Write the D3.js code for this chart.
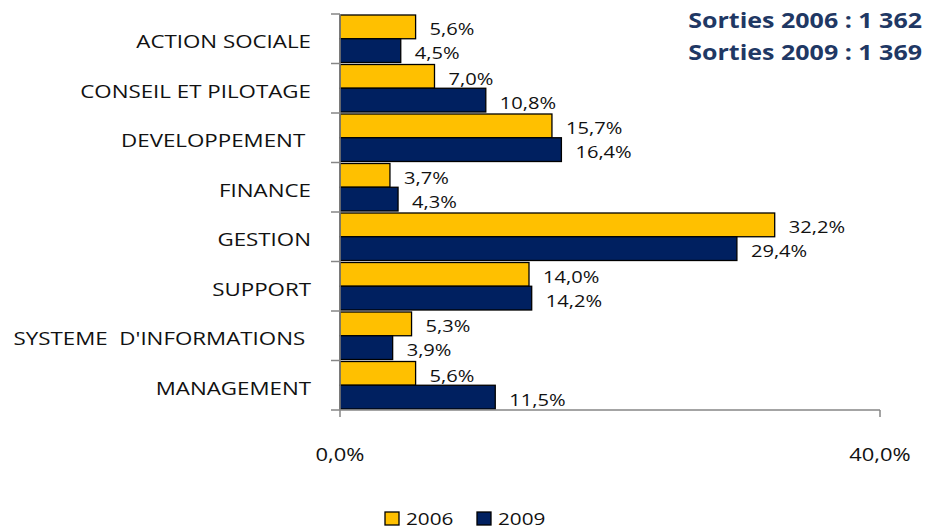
<!DOCTYPE html>
<html><head><meta charset="utf-8">
<script src="https://cdn.jsdelivr.net/npm/d3@7"></script>
<style>
html,body{margin:0;padding:0;background:#fff;}
svg{display:block;}
text{font-family:"Open Sans",sans-serif;white-space:pre;}
</style></head>
<body>
<svg id="chart" width="930" height="529"></svg>
<script>
const categories = ["ACTION SOCIALE","CONSEIL ET PILOTAGE","DEVELOPPEMENT ","FINANCE","GESTION","SUPPORT","SYSTEME  D'INFORMATIONS ","MANAGEMENT"];
const series = ["2006","2009"];
const values2006 = [5.6, 7.0, 15.7, 3.7, 32.2, 14.0, 5.3, 5.6];
const values2009 = [4.5, 10.8, 16.4, 4.3, 29.4, 14.2, 3.9, 11.5];
const xTicks = [0, 40];
const titleLines = ["Sorties 2006 : 1 362", "Sorties 2009 : 1 369"];
const colors = ["#FFC000", "#002060"];

const SX = 1.22; // horizontal stretch of glyphs
const svg = d3.select("#chart");
const fmt = v => d3.format(".1f")(v).replace(".", ",") + "%";

const x = d3.scaleLinear().domain([0, 40]).range([340, 880]);
const y = d3.scaleBand().domain(categories).range([14, 410]).padding(0);
const ySub = d3.scaleBand().domain(series).range([1, y.bandwidth() - 1]).padding(0);

function stretchText(sel, px, py) {
  return sel.attr("transform", `translate(${px},${py}) scale(${SX},1)`);
}

// bars
const rows = categories.map((c, i) => ({cat: c, vals: [values2006[i], values2009[i]]}));
const g = svg.append("g");
const grp = g.selectAll("g.grp").data(rows).join("g")
  .attr("transform", d => `translate(0,${y(d.cat)})`);
grp.selectAll("rect").data(d => d.vals.map((v, k) => ({v, s: series[k], k}))).join("rect")
  .attr("x", x(0))
  .attr("y", d => ySub(d.s))
  .attr("width", d => x(d.v) - x(0))
  .attr("height", ySub.bandwidth())
  .attr("fill", d => colors[d.k])
  .attr("stroke", "#000")
  .attr("stroke-width", 1.3);
grp.selectAll("text.val").data(d => d.vals.map((v, k) => ({v, s: series[k], k}))).join("text")
  .attr("class", "val")
  .each(function(d) {
    stretchText(d3.select(this), x(d.v) + 14, ySub(d.s) + ySub.bandwidth() / 2 + 8.5);
  })
  .attr("font-size", 16.5)
  .attr("fill", "#111")
  .text(d => fmt(d.v));

// y axis
const axisColor = "#868686";
svg.append("line").attr("x1", x(0)).attr("x2", x(0)).attr("y1", 14).attr("y2", 410)
  .attr("stroke", axisColor).attr("stroke-width", 1.5);
const bounds = categories.map(c => y(c)).concat([410]);
svg.selectAll("line.ytick").data(bounds).join("line").attr("class", "ytick")
  .attr("x1", x(0) - 9).attr("x2", x(0)).attr("y1", d => d).attr("y2", d => d)
  .attr("stroke", axisColor).attr("stroke-width", 1.5);
svg.selectAll("text.cat").data(categories).join("text").attr("class", "cat")
  .each(function(d) {
    stretchText(d3.select(this), 311, y(d) + y.bandwidth() / 2 + 9.5);
  })
  .attr("text-anchor", "end")
  .attr("font-size", 18.3)
  .attr("fill", "#111")
  .text(d => d);

// x axis
svg.append("line").attr("x1", x(0)).attr("x2", x(40)).attr("y1", 410).attr("y2", 410)
  .attr("stroke", axisColor).attr("stroke-width", 1.5);
svg.selectAll("line.xtick").data(xTicks).join("line").attr("class", "xtick")
  .attr("x1", d => x(d)).attr("x2", d => x(d)).attr("y1", 410).attr("y2", 417)
  .attr("stroke", axisColor).attr("stroke-width", 1.5);
svg.selectAll("text.xt").data(xTicks).join("text").attr("class", "xt")
  .each(function(d) { stretchText(d3.select(this), x(d), 461); })
  .attr("text-anchor", "middle")
  .attr("font-size", 18)
  .attr("fill", "#111")
  .text(d => fmt(d));

// title
svg.selectAll("text.title").data(titleLines).join("text").attr("class", "title")
  .each(function(d, i) { stretchText(d3.select(this), 922, 28 + i * 32); })
  .attr("text-anchor", "end")
  .attr("font-size", 20.5)
  .attr("font-weight", "bold")
  .attr("fill", "#1F3864")
  .text(d => d);

// legend
const legX = [385, 477];
const lg = svg.selectAll("g.leg").data(series).join("g").attr("class", "leg")
  .attr("transform", (d, i) => `translate(${legX[i]},512)`);
lg.append("rect").attr("width", 14).attr("height", 13)
  .attr("fill", (d, i) => colors[i]).attr("stroke", "#000").attr("stroke-width", 1.3);
lg.append("text")
  .each(function() { stretchText(d3.select(this), 21, 13); })
  .attr("font-size", 17)
  .attr("fill", "#111")
  .text(d => d);
</script>
</body></html>
